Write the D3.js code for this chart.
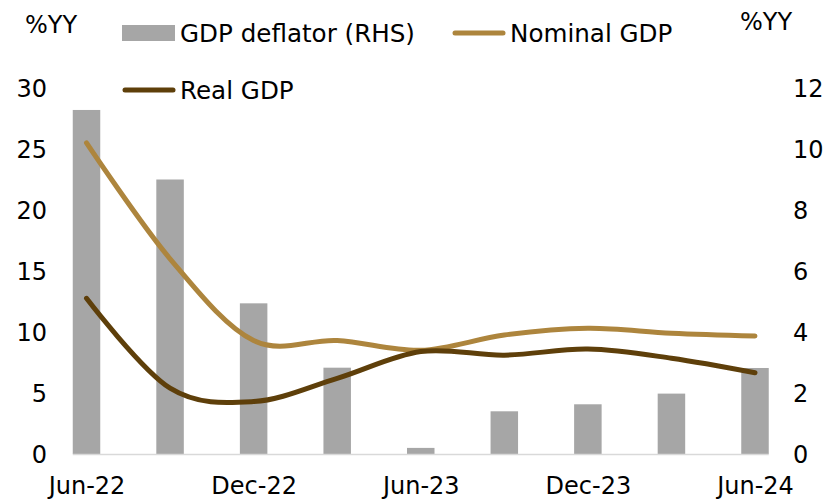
<!DOCTYPE html>
<html><head><meta charset="utf-8">
<script src="https://cdn.jsdelivr.net/npm/d3@7"></script>
<style>html,body{margin:0;padding:0;background:#fff;}svg{display:block;font-family:"DejaVu Sans",sans-serif;}</style>
</head><body><svg id="c" width="839" height="499"></svg>
<script>
const categories = ["Jun-22","Sep-22","Dec-22","Mar-23","Jun-23","Sep-23","Dec-23","Mar-24","Jun-24"];
const xTickLabels = ["Jun-22","Dec-22","Jun-23","Dec-23","Jun-24"];
const gdpDeflator = [11.28, 9.0, 4.94, 2.83, 0.2, 1.4, 1.63, 1.98, 2.82];
const nominalGDP = [25.5, 16.0, 9.3, 9.3, 8.5, 9.75, 10.3, 9.9, 9.67];
const realGDP = [12.76, 5.4, 4.3, 6.2, 8.4, 8.1, 8.6, 7.85, 6.66];
const leftTicks = [0,5,10,15,20,25,30];
const rightTicks = [0,2,4,6,8,10,12];

const svg = d3.select("#c");
const x = d3.scalePoint().domain(categories).range([86.5, 755]);
const barW = 27.5;
const yL = d3.scaleLinear().domain([0,30]).range([454,88]);
const yR = d3.scaleLinear().domain([0,12]).range([454,88]);
const fs = 24;

// bars
svg.append("g").selectAll("rect").data(categories).join("rect")
  .attr("x", d => x(d) - barW/2).attr("width", barW)
  .attr("y", (d,i) => yR(gdpDeflator[i]))
  .attr("height", (d,i) => yR(0) - yR(gdpDeflator[i]))
  .attr("fill", "#A6A6A6");

// baseline
svg.append("line").attr("x1", x(categories[0]) - barW/2).attr("x2", x(categories[8]) + barW/2)
  .attr("y1", yL(0)+0.5).attr("y2", yL(0)+0.5).attr("stroke", "#D9D9D9").attr("stroke-width", 1.5);

// lines
const line = (arr) => d3.line().x((d,i) => x(categories[i])).y(d => yL(d)).curve(d3.curveCatmullRom.alpha(0))(arr);
svg.append("path").attr("d", line(nominalGDP)).attr("fill","none").attr("stroke","#AD853D")
  .attr("stroke-width",5).attr("stroke-linecap","round");
svg.append("path").attr("d", line(realGDP)).attr("fill","none").attr("stroke","#5E3F0A")
  .attr("stroke-width",5).attr("stroke-linecap","round");

// left axis
const axL = d3.axisLeft(yL).tickValues(leftTicks).tickSize(0).tickPadding(0);
const gL = svg.append("g").attr("transform","translate(47,0)").call(axL);
gL.select(".domain").remove();
gL.selectAll("text").attr("font-size", fs).attr("font-family","DejaVu Sans").attr("fill","#000").attr("dy","0.35em");

// right axis
const axR = d3.axisRight(yR).tickValues(rightTicks).tickSize(0).tickPadding(0);
const gR = svg.append("g").attr("transform","translate(793,0)").call(axR);
gR.select(".domain").remove();
gR.selectAll("text").attr("font-size", fs).attr("font-family","DejaVu Sans").attr("fill","#000").attr("dy","0.35em");

// x axis
const axX = d3.axisBottom(x).tickValues(xTickLabels).tickSize(0).tickPadding(0);
const gX = svg.append("g").attr("transform","translate(0,472)").call(axX);
gX.select(".domain").remove();
gX.selectAll("text").attr("font-size", fs).attr("font-family","DejaVu Sans").attr("fill","#000").attr("dy","0.9em");

// unit labels
svg.append("text").attr("x",25).attr("y",33).attr("font-size",fs).text("%YY");
svg.append("text").attr("x",740).attr("y",30).attr("font-size",fs).text("%YY");

// legend
const lg = svg.append("g").attr("font-size", 24.6);
lg.append("rect").attr("x",122).attr("y",25).attr("width",53).attr("height",16).attr("fill","#A6A6A6");
lg.append("text").attr("x",180).attr("y",33).attr("dy","0.35em").text("GDP deflator (RHS)");
lg.append("line").attr("x1",455).attr("x2",503).attr("y1",33).attr("y2",33).attr("stroke","#AD853D").attr("stroke-width",5).attr("stroke-linecap","round");
lg.append("text").attr("x",510).attr("y",33).attr("dy","0.35em").text("Nominal GDP");
lg.append("line").attr("x1",125).attr("x2",173).attr("y1",90).attr("y2",90).attr("stroke","#5E3F0A").attr("stroke-width",5).attr("stroke-linecap","round");
lg.append("text").attr("x",180).attr("y",90).attr("dy","0.35em").text("Real GDP");
</script></body></html>
